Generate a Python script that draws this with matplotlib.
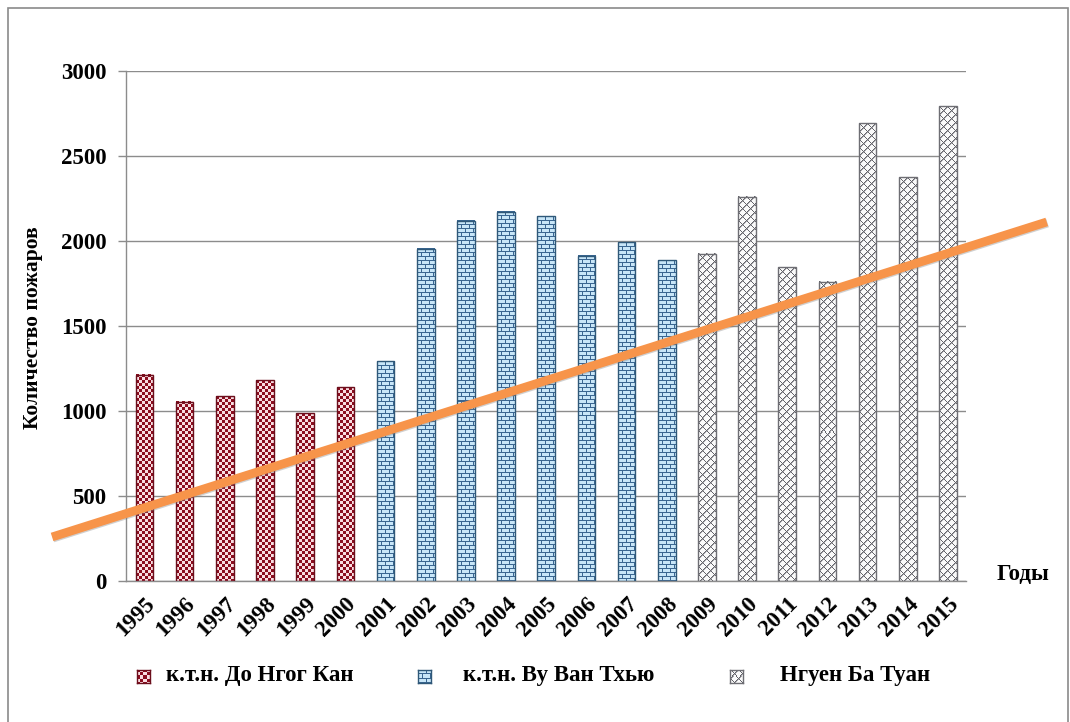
import numpy as np
import matplotlib
matplotlib.use("Agg")
import matplotlib.pyplot as plt
from matplotlib.patches import Rectangle
import matplotlib.patheffects as pe

# ---- data -------------------------------------------------------------
years = [str(y) for y in range(1995, 2016)]
fires = [1212, 1053, 1088, 1182, 988, 1141,            # period 1
         1294, 1953, 2118, 2171, 2147, 1912, 1994, 1888,  # period 2
         1924, 2259, 1847, 1759, 2694, 2376, 2794]      # period 3
group = [0] * 6 + [1] * 8 + [2] * 7
group_names = ["к.т.н. До Нгог Кан", "к.т.н. Ву Ван Тхью", "Нгуен Ба Туан"]
y_ticks = [0, 500, 1000, 1500, 2000, 2500, 3000]
# trend overlay: (x in category index units, y in fires)
trend_x = [-2.30, 22.46]
trend_y = [259, 2112]

plt.rcParams["font.family"] = ["Liberation Serif", "DejaVu Serif"]
plt.rcParams["font.weight"] = "bold"

W, H, DPI = 1070, 722, 100
fig = plt.figure(figsize=(W / DPI, H / DPI), dpi=DPI)
fig.patch.set_facecolor("white")

# outer frame
fig.patches.append(Rectangle((8 / W, -0.05), (1068 - 8) / W, 1.05 - 8 / H,
                             transform=fig.transFigure, fill=False,
                             edgecolor="#8a8a8a", linewidth=1.2))

ax = fig.add_axes([126 / W, (H - 581) / H, 840 / W, 510 / H])
ax.set_xlim(-0.46, 20.45)
ax.set_ylim(0, 3000)


# ---- fill textures (pixel-level patterns) -----------------------------
def checker(h, w):
    yy, xx = np.mgrid[0:h, 0:w]
    m = ((yy // 3) + (xx // 3)) % 2 == 0
    img = np.empty((h, w, 3))
    img[:] = np.array([250, 222, 226]) / 255
    img[m] = np.array([140, 14, 32]) / 255
    return img


def brick(h, w):
    yy, xx = np.mgrid[0:h, 0:w]
    row = yy // 4
    hline = (yy % 4) == 0
    vline = ((xx + (row % 2) * 4) % 8) == 0
    img = np.empty((h, w, 3))
    img[:] = np.array([200, 230, 248]) / 255
    img[hline | vline] = np.array([58, 102, 145]) / 255
    return img


def trellis(h, w):
    yy, xx = np.mgrid[0:h, 0:w]
    a = ((yy + xx) % 8) == 0
    b = ((yy - xx) % 8) == 0
    a2 = ((yy + xx) % 8) == 1
    img = np.empty((h, w, 3))
    img[:] = np.array([250, 250, 250]) / 255
    img[a2] = np.array([170, 170, 175]) / 255
    img[a | b] = np.array([100, 100, 106]) / 255
    return img


textures = [checker, brick, trellis]
edge_colors = ["#6b0f1c", "#2f5878", "#6e6e74"]

# ---- bars ------------------------------------------------------------
x = np.arange(len(years))
bars = ax.bar(x, fires, width=0.44, color="none",
              edgecolor=[edge_colors[g] for g in group], linewidth=1.0,
              zorder=3)
for b, g in zip(bars, group):
    x0, y0 = b.get_x(), b.get_y()
    x1, y1 = x0 + b.get_width(), y0 + b.get_height()
    p0 = ax.transData.transform((x0, y0))
    p1 = ax.transData.transform((x1, y1))
    wpx = max(int(round(p1[0] - p0[0])), 1)
    hpx = max(int(round(p1[1] - p0[1])), 1)
    ax.imshow(textures[g](hpx, wpx), extent=(x0, x1, y0, y1),
              origin="upper", aspect="auto", interpolation="nearest",
              zorder=2, clip_path=b, clip_on=True)
ax.set_xlim(-0.46, 20.45)
ax.set_ylim(0, 3000)

# ---- axes styling ----------------------------------------------------
for s in ["top", "right"]:
    ax.spines[s].set_visible(False)
ax.spines["left"].set_color("#8c8c8c")
ax.spines["bottom"].set_color("#8c8c8c")
ax.spines["left"].set_linewidth(1.0)
ax.spines["bottom"].set_linewidth(1.0)
ax.set_yticks(y_ticks)
ax.set_yticklabels([str(v) for v in y_ticks])
ax.yaxis.grid(True, color="#8c8c8c", linewidth=1.0)
ax.set_axisbelow(True)
ax.tick_params(axis="y", length=5.8, width=1.0, color="#8c8c8c",
               pad=8.5, labelsize=16.5)
ax.set_xticks(x)
ax.set_xticklabels(years, rotation=45, ha="right", va="top",
                   rotation_mode="anchor")
ax.tick_params(axis="x", length=0, pad=9, labelsize=16.5)
for t in ax.get_xticklabels() + ax.get_yticklabels():
    t.set_fontweight("bold")

# ---- trend overlay ---------------------------------------------------
ax.plot(trend_x, trend_y, color="#f7944a", linewidth=6.3,
        solid_capstyle="butt", clip_on=False, zorder=5,
        path_effects=[pe.SimpleLineShadow(offset=(0.6, -0.8),
                                          shadow_color="#7a7a7a", alpha=0.35),
                      pe.Normal()])

# ---- labels ----------------------------------------------------------
fig.text(33 / W, 1 - 328 / H, "Количество пожаров", rotation=90,
         ha="center", va="center", fontsize=15.5, fontweight="bold")
fig.text(997 / W, 1 - 575 / H, "Годы", ha="left", va="center",
         fontsize=16.5, fontweight="bold")

# ---- legend ----------------------------------------------------------
marker_x = [137, 418, 730]
text_x = [166, 463, 780]
for g in range(3):
    lax = fig.add_axes([marker_x[g] / W, (H - 683) / H, 13 / W, 13 / H])
    lax.imshow(textures[g](13, 13), interpolation="nearest", aspect="auto")
    lax.set_xticks([])
    lax.set_yticks([])
    for s in lax.spines.values():
        s.set_color(edge_colors[g])
        s.set_linewidth(1.0)
    fig.text(text_x[g] / W, 1 - 676 / H, group_names[g], ha="left",
             va="center", fontsize=16.5, fontweight="bold")

fig.savefig("out.png", dpi=DPI, facecolor="white")
